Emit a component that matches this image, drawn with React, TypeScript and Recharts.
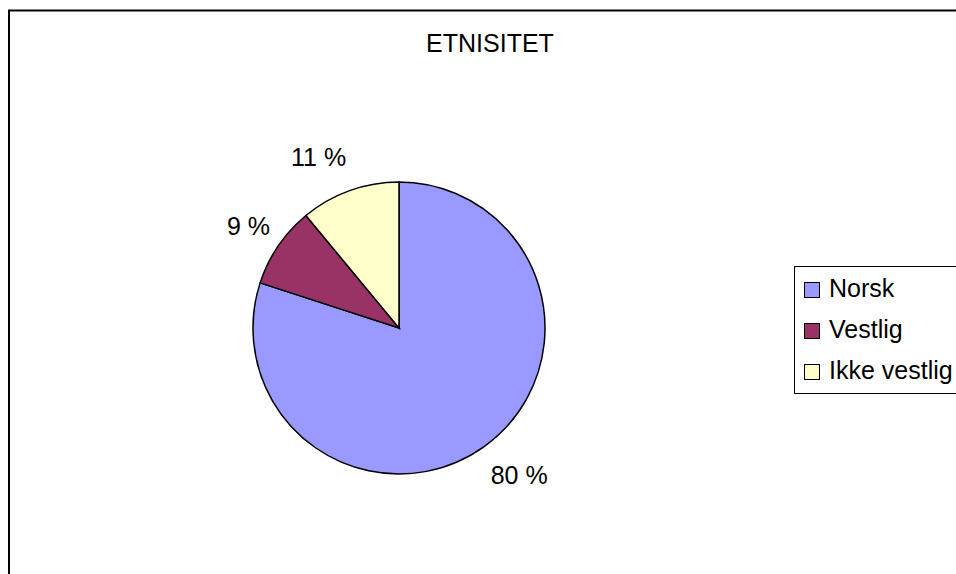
import { PieChart, Pie, Cell, Legend, Customized } from "recharts";

const categories = ["Norsk", "Vestlig", "Ikke vestlig"];
const shares = [80, 9, 11];
const colors = ["#9999FF", "#993366", "#FFFFCC"];

const data = categories.map((name, i) => ({ name, value: shares[i] }));

const FONT = "'Liberation Sans', Arial, sans-serif";
const RAD = Math.PI / 180;

// label sits just outside the slice edge, anchored on the outer side
const renderLabel = (props: any) => {
  const { cx, cy, midAngle, outerRadius, value } = props;
  const cos = Math.cos(-midAngle * RAD);
  const sin = Math.sin(-midAngle * RAD);
  const x = cx + (outerRadius + 10) * cos;
  const y = cy + outerRadius * sin + 36 * sin;
  return (
    <text
      x={x}
      y={y}
      textAnchor={cos >= 0 ? "start" : "end"}
      dominantBaseline="central"
      fill="#000"
      fontSize={25}
      fontFamily={FONT}
    >
      {value} %
    </text>
  );
};

const renderLegend = () => (
  <div
    style={{
      border: "1px solid #000",
      borderRight: "none",
      width: 170,
      padding: "1px 0 2px 0",
      background: "#fff",
      fontFamily: FONT,
      fontSize: 25,
      lineHeight: "41px",
      color: "#000",
    }}
  >
    {categories.map((name, i) => (
      <div key={name} style={{ display: "flex", alignItems: "center", whiteSpace: "nowrap" }}>
        <span
          style={{
            display: "inline-block",
            flexShrink: 0,
            width: 14,
            height: 14,
            border: "1px solid #000",
            background: colors[i],
            marginLeft: 9,
            marginRight: 9,
            marginTop: 3,
          }}
        />
        <span style={{ flexShrink: 0 }}>{name}</span>
      </div>
    ))}
  </div>
);

const Frame = () => (
  <g>
    <line x1={8} y1={10.5} x2={956} y2={10.5} stroke="#000" strokeWidth={2} />
    <line x1={9} y1={10} x2={9} y2={574} stroke="#000" strokeWidth={2} />
    <text x={490} y={52} textAnchor="middle" fontSize={25} fontFamily={FONT} fill="#000">
      ETNISITET
    </text>
  </g>
);

export default function App() {
  return (
    <div style={{ position: "fixed", left: 0, top: 0, width: 956, height: 574, background: "#fff", overflow: "hidden" }}>
      <style>{"html,body{margin:0;overflow:hidden;}"}</style>
      <PieChart width={956} height={574} margin={{ top: 0, right: 0, bottom: 0, left: 0 }}>
        <Customized component={Frame} />
        <Pie
          data={data}
          dataKey="value"
          nameKey="name"
          cx={399}
          cy={328}
          outerRadius={146}
          startAngle={90}
          endAngle={-270}
          stroke="#000"
          strokeWidth={1.5}
          label={renderLabel}
          labelLine={false}
          isAnimationActive={false}
        >
          {data.map((d, i) => (
            <Cell key={d.name} fill={colors[i]} />
          ))}
        </Pie>
        <Legend
          content={renderLegend}
          wrapperStyle={{ position: "absolute", left: 794, top: 266, width: 170 }}
        />
      </PieChart>
    </div>
  );
}
